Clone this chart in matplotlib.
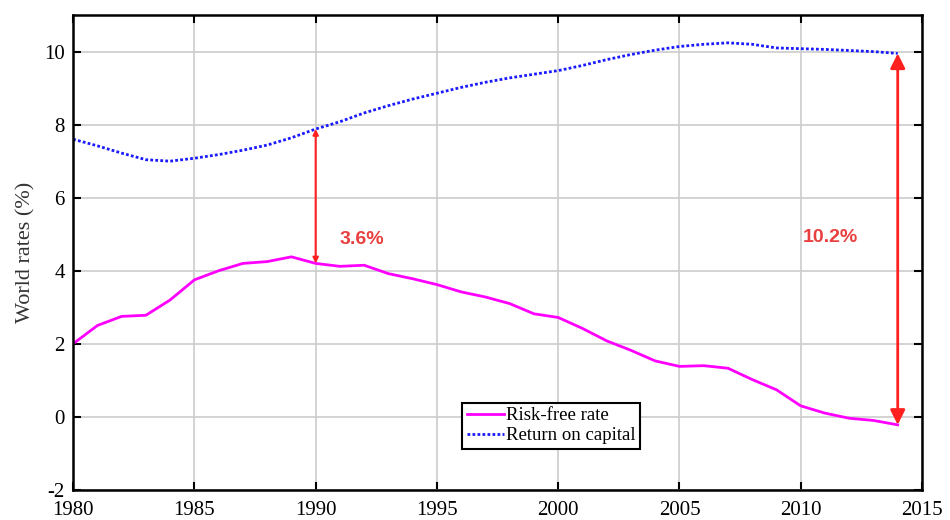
import matplotlib
matplotlib.use("Agg")
import matplotlib.pyplot as plt

plt.rcParams["axes.unicode_minus"] = False

years = list(range(1980, 2015))
risk_free = [2.0, 2.5, 2.75, 2.78, 3.2, 3.75, 4.0, 4.2, 4.25, 4.38,
             4.2, 4.12, 4.15, 3.92, 3.78, 3.62, 3.42, 3.28, 3.1, 2.82,
             2.72, 2.42, 2.08, 1.82, 1.53, 1.38, 1.4, 1.33, 1.02, 0.74,
             0.3, 0.1, -0.04, -0.1, -0.22]
return_on_capital = [7.6, 7.42, 7.22, 7.04, 7.0, 7.08, 7.18, 7.3, 7.44, 7.64,
                     7.88, 8.08, 8.32, 8.52, 8.7, 8.86, 9.02, 9.16, 9.28, 9.38,
                     9.48, 9.62, 9.78, 9.92, 10.04, 10.14, 10.2, 10.24, 10.2, 10.1,
                     10.08, 10.06, 10.03, 10.0, 9.95]
series_labels = ["Risk-free rate", "Return on capital"]
gap_labels = ["3.6%", "10.2%"]
gap_years = [1990, 2014]
x_ticks = [1980, 1985, 1990, 1995, 2000, 2005, 2010, 2015]
y_ticks = [-2, 0, 2, 4, 6, 8, 10]

serif = ["Liberation Serif", "DejaVu Serif"]
fig = plt.figure(figsize=(9.5, 5.2), dpi=100)
ax = fig.add_axes([0.077, 0.058, 0.8935, 0.913])

ax.plot(years, risk_free, color="#ff00ff", lw=2, label=series_labels[0])
ax.plot(years, return_on_capital, color="#1a1aff", lw=2, ls=(0, (1, 0.8)), label=series_labels[1])

red = "#ff2020"
i0 = years.index(gap_years[0])
ax.annotate("", xy=(gap_years[0], return_on_capital[i0]), xytext=(gap_years[0], risk_free[i0]),
            arrowprops=dict(arrowstyle="<|-|>", color=red, lw=1.5, mutation_scale=8, shrinkA=0, shrinkB=0))
i1 = years.index(gap_years[1])
ax.annotate("", xy=(gap_years[1], return_on_capital[i1]), xytext=(gap_years[1], risk_free[i1]),
            arrowprops=dict(arrowstyle="<|-|>", color=red, lw=2, mutation_scale=22, shrinkA=0, shrinkB=0))

ax.text(1991.0, 4.85, gap_labels[0], color="#e84040", fontsize=14, fontweight="bold",
        family=["Liberation Sans", "DejaVu Sans"], va="center")
ax.text(2010.1, 4.9, gap_labels[1], color="#e84040", fontsize=14, fontweight="bold",
        family=["Liberation Sans", "DejaVu Sans"], va="center")

ax.set_xlim(1980, 2015)
ax.set_ylim(-2, 11)
ax.set_xticks(x_ticks)
ax.set_yticks(y_ticks)
ax.grid(True, color="#cccccc", lw=1.2)
ax.set_axisbelow(True)
ax.tick_params(direction="in", top=True, right=True, length=6, width=1.5, labelsize=15)
ax.tick_params(axis="x", pad=8)
ax.tick_params(axis="y", pad=6)
for lab in ax.get_xticklabels() + ax.get_yticklabels():
    lab.set_family(serif)
for s in ax.spines.values():
    s.set_linewidth(1.8)
ax.set_ylabel("World rates (%)", fontsize=16, family=serif, color="#333333", labelpad=6)

leg = ax.legend(loc="lower left", bbox_to_anchor=(0.458, 0.086), prop={"family": serif, "size": 13.5},
                fancybox=False, edgecolor="black", framealpha=1, handlelength=2.0, handletextpad=0.1,
                borderpad=0.25, labelspacing=0.15, borderaxespad=0)
leg.get_frame().set_linewidth(1.5)

fig.savefig("out.png", dpi=100)
